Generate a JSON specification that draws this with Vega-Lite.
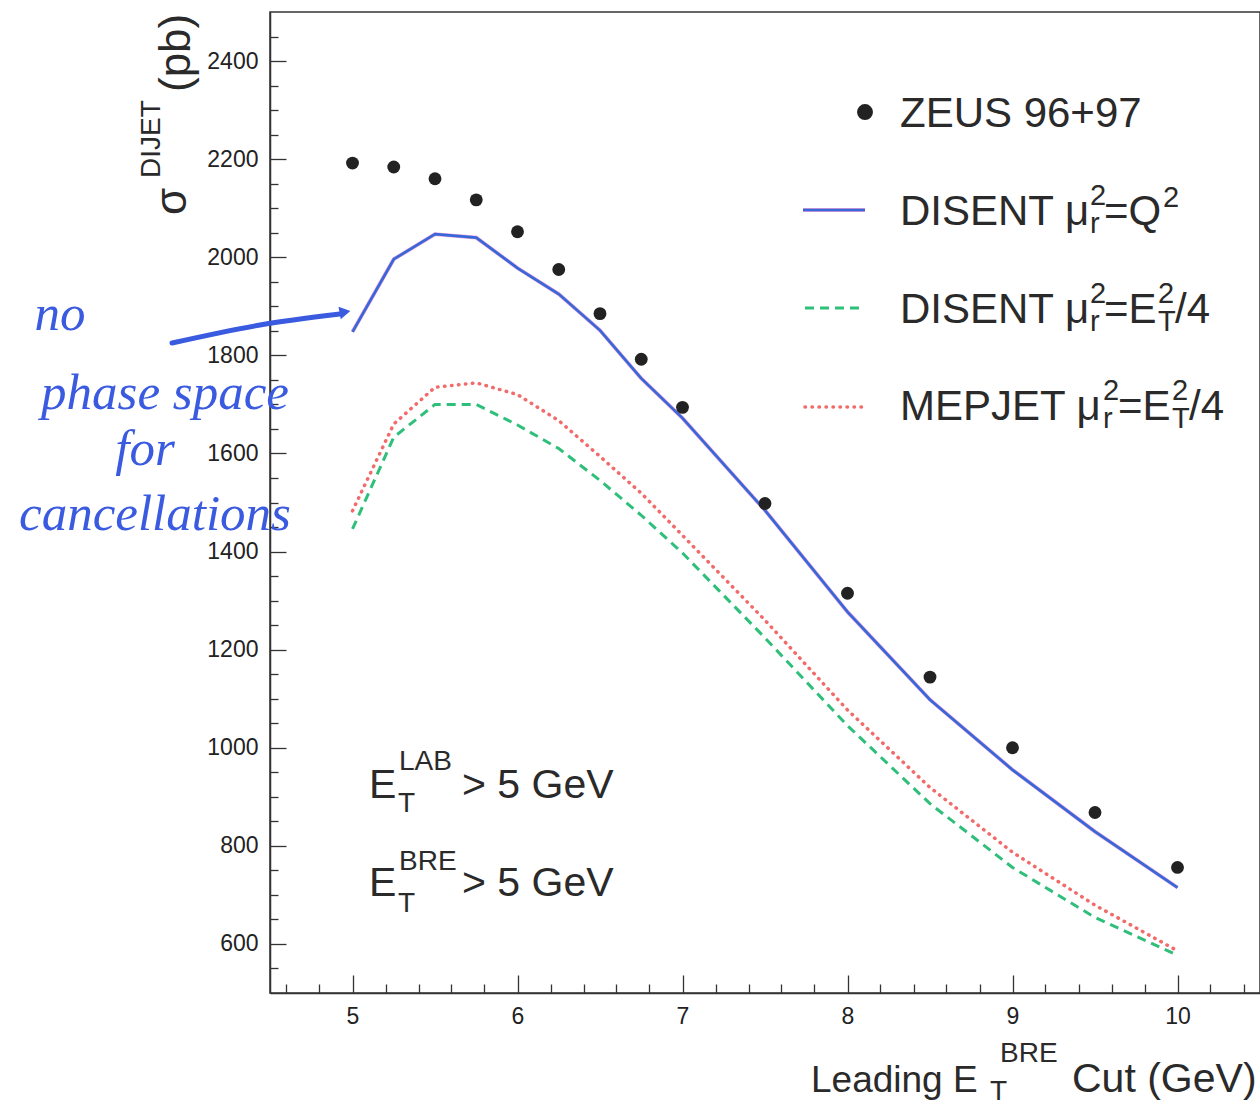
{
  "$schema": "https://vega.github.io/schema/vega-lite/v6.json",
  "width": 990,
  "height": 981,
  "autosize": {"type": "none"},
  "padding": {"left": 270, "top": 12, "right": 0, "bottom": 111},
  "background": "white",
  "config": {
    "view": {"stroke": "#333333", "strokeWidth": 1.5},
    "font": "Liberation Sans",
    "text": {"font": "Liberation Sans", "color": "#2a2a2a"}
  },
  "datasets": {
    "curves": [
      {"x": 5, "y": 1848, "series": "q2", "part": "curve"},
      {"x": 5.25, "y": 1996, "series": "q2", "part": "curve"},
      {"x": 5.5, "y": 2047, "series": "q2", "part": "curve"},
      {"x": 5.75, "y": 2040, "series": "q2", "part": "curve"},
      {"x": 6, "y": 1978, "series": "q2", "part": "curve"},
      {"x": 6.25, "y": 1925, "series": "q2", "part": "curve"},
      {"x": 6.5, "y": 1851, "series": "q2", "part": "curve"},
      {"x": 6.75, "y": 1753, "series": "q2", "part": "curve"},
      {"x": 7, "y": 1672, "series": "q2", "part": "curve"},
      {"x": 7.5, "y": 1484, "series": "q2", "part": "curve"},
      {"x": 8, "y": 1277, "series": "q2", "part": "curve"},
      {"x": 8.5, "y": 1098, "series": "q2", "part": "curve"},
      {"x": 9, "y": 955, "series": "q2", "part": "curve"},
      {"x": 9.5, "y": 829, "series": "q2", "part": "curve"},
      {"x": 10, "y": 715, "series": "q2", "part": "curve"},
      {"x": 7.7303, "y": 2096.3, "series": "q2", "part": "legend"},
      {"x": 8.1061, "y": 2096.3, "series": "q2", "part": "legend"},
      {"x": 5, "y": 1446, "series": "et", "part": "curve"},
      {"x": 5.25, "y": 1633, "series": "et", "part": "curve"},
      {"x": 5.5, "y": 1700, "series": "et", "part": "curve"},
      {"x": 5.75, "y": 1700, "series": "et", "part": "curve"},
      {"x": 6, "y": 1658, "series": "et", "part": "curve"},
      {"x": 6.25, "y": 1610, "series": "et", "part": "curve"},
      {"x": 6.5, "y": 1545, "series": "et", "part": "curve"},
      {"x": 6.75, "y": 1474, "series": "et", "part": "curve"},
      {"x": 7, "y": 1397, "series": "et", "part": "curve"},
      {"x": 7.5, "y": 1224, "series": "et", "part": "curve"},
      {"x": 8, "y": 1045, "series": "et", "part": "curve"},
      {"x": 8.5, "y": 886, "series": "et", "part": "curve"},
      {"x": 9, "y": 756, "series": "et", "part": "curve"},
      {"x": 9.5, "y": 654, "series": "et", "part": "curve"},
      {"x": 10, "y": 577, "series": "et", "part": "curve"},
      {"x": 7.7424, "y": 1896.5, "series": "et", "part": "legend"},
      {"x": 8.1061, "y": 1896.5, "series": "et", "part": "legend"},
      {"x": 5, "y": 1483, "series": "mep", "part": "curve"},
      {"x": 5.25, "y": 1660, "series": "mep", "part": "curve"},
      {"x": 5.5, "y": 1735, "series": "mep", "part": "curve"},
      {"x": 5.75, "y": 1744, "series": "mep", "part": "curve"},
      {"x": 6, "y": 1720, "series": "mep", "part": "curve"},
      {"x": 6.25, "y": 1667, "series": "mep", "part": "curve"},
      {"x": 6.5, "y": 1594, "series": "mep", "part": "curve"},
      {"x": 6.75, "y": 1519, "series": "mep", "part": "curve"},
      {"x": 7, "y": 1433, "series": "mep", "part": "curve"},
      {"x": 7.5, "y": 1260, "series": "mep", "part": "curve"},
      {"x": 8, "y": 1077, "series": "mep", "part": "curve"},
      {"x": 8.5, "y": 919, "series": "mep", "part": "curve"},
      {"x": 9, "y": 787, "series": "mep", "part": "curve"},
      {"x": 9.5, "y": 679, "series": "mep", "part": "curve"},
      {"x": 10, "y": 586, "series": "mep", "part": "curve"},
      {"x": 7.7424, "y": 1694.7, "series": "mep", "part": "legend"},
      {"x": 8.1061, "y": 1694.7, "series": "mep", "part": "legend"}
    ],
    "zeus": [
      {"x": 5, "y": 2192}, {"x": 5.25, "y": 2184}, {"x": 5.5, "y": 2160},
      {"x": 5.75, "y": 2117}, {"x": 6, "y": 2052}, {"x": 6.25, "y": 1975},
      {"x": 6.5, "y": 1885}, {"x": 6.75, "y": 1792}, {"x": 7, "y": 1694},
      {"x": 7.5, "y": 1498}, {"x": 8, "y": 1315}, {"x": 8.5, "y": 1144},
      {"x": 9, "y": 1000}, {"x": 9.5, "y": 868}, {"x": 10, "y": 756}
    ],
    "legdot": [{"x": 8.1061, "y": 2296.1}],
    "arrow": [
      {"x": 3.9061, "y": 1825.2},
      {"x": 4.4394, "y": 1861.9},
      {"x": 4.9242, "y": 1884.3}
    ],
    "arrowhead": [{"x": 4.9545, "y": 1888.4}],
    "texts": [
      {"x": 8.318, "y": 2265.5, "text": "ZEUS 96+97", "g": "leg"},
      {"x": 8.318, "y": 2065.8, "text": "DISENT μ", "g": "leg"},
      {"x": 9.5545, "y": 2065.8, "text": "=Q", "g": "leg"},
      {"x": 8.318, "y": 1866.0, "text": "DISENT μ", "g": "leg"},
      {"x": 9.5545, "y": 1866.0, "text": "=E", "g": "leg"},
      {"x": 9.9848, "y": 1866.0, "text": "/4", "g": "leg"},
      {"x": 8.318, "y": 1668.2, "text": "MEPJET μ", "g": "leg"},
      {"x": 9.6394, "y": 1668.2, "text": "=E", "g": "leg"},
      {"x": 10.0697, "y": 1668.2, "text": "/4", "g": "leg"},
      {"x": 9.4697, "y": 2106.5, "text": "2", "g": "legs"},
      {"x": 9.4697, "y": 2049.4, "text": "r", "g": "legs"},
      {"x": 9.9121, "y": 2102.5, "text": "2", "g": "legs"},
      {"x": 9.4697, "y": 1906.7, "text": "2", "g": "legs"},
      {"x": 9.4697, "y": 1849.7, "text": "r", "g": "legs"},
      {"x": 9.8818, "y": 1906.7, "text": "2", "g": "legs"},
      {"x": 9.8818, "y": 1849.7, "text": "T", "g": "legs"},
      {"x": 9.5485, "y": 1709.0, "text": "2", "g": "legs"},
      {"x": 9.5485, "y": 1651.9, "text": "r", "g": "legs"},
      {"x": 9.9667, "y": 1709.0, "text": "2", "g": "legs"},
      {"x": 9.9667, "y": 1651.9, "text": "T", "g": "legs"},
      {"x": 5.1, "y": 897.6, "text": "E", "g": "cut"},
      {"x": 5.6636, "y": 897.6, "text": "> 5 GeV", "g": "cut"},
      {"x": 5.1, "y": 697.8, "text": "E", "g": "cut"},
      {"x": 5.6636, "y": 697.8, "text": "> 5 GeV", "g": "cut"},
      {"x": 5.2818, "y": 954.7, "text": "LAB", "g": "cuts"},
      {"x": 5.2758, "y": 869.0, "text": "T", "g": "cuts"},
      {"x": 5.2818, "y": 750.8, "text": "BRE", "g": "cuts"},
      {"x": 5.2758, "y": 665.2, "text": "T", "g": "cuts"},
      {"x": 7.7788, "y": 298.2, "text": "Leading", "g": "xt"},
      {"x": 8.6394, "y": 298.2, "text": "E", "g": "xt"},
      {"x": 9.3606, "y": 298.2, "text": "Cut (GeV)", "g": "xtc"},
      {"x": 8.8636, "y": 281.9, "text": "T", "g": "xts"},
      {"x": 8.9242, "y": 359.4, "text": "BRE", "g": "xts"},
      {"x": 3.9909, "y": 2086.1, "text": "σ", "g": "ytb"},
      {"x": 4.0152, "y": 2336.9, "text": "(pb)", "g": "ytb"},
      {"x": 3.8333, "y": 2161.5, "text": "DIJET", "g": "yts"},
      {"x": 3.2273, "y": 1851.7, "text": "no", "g": "note"},
      {"x": 3.8636, "y": 1690.7, "text": "phase space", "g": "note"},
      {"x": 3.7424, "y": 1576.5, "text": "for", "g": "note"},
      {"x": 3.803, "y": 1443.95, "text": "cancellations", "g": "note"}
    ]
  },
  "encoding": {
    "x": {
      "field": "x",
      "type": "quantitative",
      "scale": {"domain": [4.5, 10.5], "nice": false, "zero": false},
      "axis": {
        "title": null,
        "grid": false,
        "ticks": true,
        "values": [4.6, 4.8, 5, 5.2, 5.4, 5.6, 5.8, 6, 6.2, 6.4, 6.6, 6.8, 7, 7.2, 7.4, 7.6, 7.8, 8, 8.2, 8.4, 8.6, 8.8, 9, 9.2, 9.4, 9.6, 9.8, 10, 10.2, 10.4],
        "labelExpr": "abs(datum.value - round(datum.value)) < 0.01 ? format(datum.value, 'd') : ''",
        "tickSize": {"condition": {"test": "abs(datum.value - round(datum.value)) < 0.01", "value": -18}, "value": -9},
        "labelPadding": 30,
        "labelFontSize": 23,
        "labelFont": "Liberation Sans",
        "labelColor": "#222222",
        "labelFlush": false,
        "labelOverlap": false,
        "domainColor": "#333333",
        "domainWidth": 1.5,
        "tickColor": "#333333",
        "tickWidth": 1.3
      }
    },
    "y": {
      "field": "y",
      "type": "quantitative",
      "scale": {"domain": [500, 2500], "nice": false, "zero": false},
      "axis": {
        "title": null,
        "grid": false,
        "ticks": true,
        "values": [550, 600, 650, 700, 750, 800, 850, 900, 950, 1000, 1050, 1100, 1150, 1200, 1250, 1300, 1350, 1400, 1450, 1500, 1550, 1600, 1650, 1700, 1750, 1800, 1850, 1900, 1950, 2000, 2050, 2100, 2150, 2200, 2250, 2300, 2350, 2400, 2450],
        "labelExpr": "datum.value % 200 == 0 ? format(datum.value, 'd') : ''",
        "tickSize": {"condition": {"test": "datum.value % 200 == 0", "value": -16}, "value": -8},
        "labelPadding": 28,
        "labelFontSize": 23,
        "labelFont": "Liberation Sans",
        "labelColor": "#222222",
        "labelFlush": false,
        "labelOverlap": false,
        "domainColor": "#333333",
        "domainWidth": 1.5,
        "tickColor": "#333333",
        "tickWidth": 1.3
      }
    }
  },
  "layer": [
    {
      "data": {"name": "curves"},
      "transform": [{"filter": "datum.series == 'q2'"}],
      "mark": {"type": "line", "color": "#d65fc4", "strokeWidth": 3.8, "opacity": 0.6},
      "encoding": {"detail": {"field": "part"}}
    },
    {
      "data": {"name": "curves"},
      "transform": [{"filter": "datum.series == 'q2'"}],
      "mark": {"type": "line", "color": "#3868d8", "strokeWidth": 2.7},
      "encoding": {"detail": {"field": "part"}}
    },
    {
      "data": {"name": "curves"},
      "transform": [{"filter": "datum.series == 'et'"}],
      "mark": {"type": "line", "color": "#2fbf7a", "strokeWidth": 3, "strokeDash": [9, 6]},
      "encoding": {"detail": {"field": "part"}}
    },
    {
      "data": {"name": "curves"},
      "transform": [{"filter": "datum.series == 'mep'"}],
      "mark": {"type": "line", "color": "#f26b6b", "strokeWidth": 3.5, "strokeDash": [0.5, 6.5], "strokeCap": "round"},
      "encoding": {"detail": {"field": "part"}}
    },
    {
      "data": {"name": "zeus"},
      "mark": {"type": "circle", "size": 165, "color": "#222222", "opacity": 1}
    },
    {
      "data": {"name": "legdot"},
      "mark": {"type": "circle", "size": 254, "color": "#222222", "opacity": 1}
    },
    {
      "data": {"name": "arrow"},
      "mark": {"type": "line", "color": "#3a5ae0", "strokeWidth": 5, "strokeCap": "round", "interpolate": "monotone"}
    },
    {
      "data": {"name": "arrowhead"},
      "mark": {"type": "point", "shape": "triangle-right", "size": 160, "filled": true, "color": "#3a5ae0", "opacity": 1, "angle": -10}
    },
    {
      "data": {"name": "texts"},
      "transform": [{"filter": "datum.g == 'leg'"}],
      "mark": {"type": "text", "align": "left", "baseline": "alphabetic", "fontSize": 42},
      "encoding": {"text": {"field": "text"}}
    },
    {
      "data": {"name": "texts"},
      "transform": [{"filter": "datum.g == 'legs'"}],
      "mark": {"type": "text", "align": "left", "baseline": "alphabetic", "fontSize": 29},
      "encoding": {"text": {"field": "text"}}
    },
    {
      "data": {"name": "texts"},
      "transform": [{"filter": "datum.g == 'cut'"}],
      "mark": {"type": "text", "align": "left", "baseline": "alphabetic", "fontSize": 41},
      "encoding": {"text": {"field": "text"}}
    },
    {
      "data": {"name": "texts"},
      "transform": [{"filter": "datum.g == 'cuts'"}],
      "mark": {"type": "text", "align": "left", "baseline": "alphabetic", "fontSize": 28},
      "encoding": {"text": {"field": "text"}}
    },
    {
      "data": {"name": "texts"},
      "transform": [{"filter": "datum.g == 'xt'"}],
      "mark": {"type": "text", "align": "left", "baseline": "alphabetic", "fontSize": 37},
      "encoding": {"text": {"field": "text"}}
    },
    {
      "data": {"name": "texts"},
      "transform": [{"filter": "datum.g == 'xtc'"}],
      "mark": {"type": "text", "align": "left", "baseline": "alphabetic", "fontSize": 41},
      "encoding": {"text": {"field": "text"}}
    },
    {
      "data": {"name": "texts"},
      "transform": [{"filter": "datum.g == 'xts'"}],
      "mark": {"type": "text", "align": "left", "baseline": "alphabetic", "fontSize": 28},
      "encoding": {"text": {"field": "text"}}
    },
    {
      "data": {"name": "texts"},
      "transform": [{"filter": "datum.g == 'ytb'"}],
      "mark": {"type": "text", "align": "left", "baseline": "alphabetic", "fontSize": 44, "angle": 270},
      "encoding": {"text": {"field": "text"}}
    },
    {
      "data": {"name": "texts"},
      "transform": [{"filter": "datum.g == 'yts'"}],
      "mark": {"type": "text", "align": "left", "baseline": "alphabetic", "fontSize": 28, "angle": 270},
      "encoding": {"text": {"field": "text"}}
    },
    {
      "data": {"name": "texts"},
      "transform": [{"filter": "datum.g == 'note'"}],
      "mark": {"type": "text", "align": "center", "baseline": "alphabetic", "fontSize": 51, "font": "Liberation Serif", "fontStyle": "italic", "color": "#3a5ae0"},
      "encoding": {"text": {"field": "text"}}
    }
  ]
}
